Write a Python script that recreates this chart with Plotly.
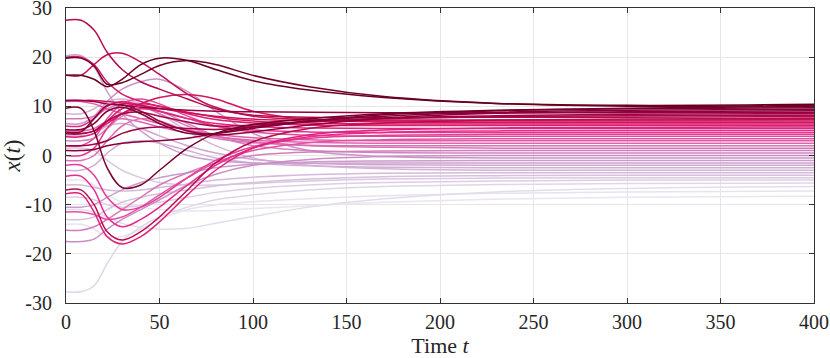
import plotly.graph_objects as go
from plotly.colors import sample_colorscale

# time samples
t = [0, 8, 15, 22, 30, 40, 50, 65, 80, 100, 130, 170, 230, 300, 400]

# agent states x(t), sorted by final value (highest first)
agent_01 = [16.3, 16.3, 15.5, 14.0, 15.5, 18.5, 19.8, 19.3, 17.5, 15.2, 13.3, 11.8, 10.6, 10.2, 10.4]
agent_02 = [19.8, 19.8, 18.2, 14.5, 14.8, 16.5, 18.3, 19.3, 18.5, 16.3, 14.0, 12.0, 10.6, 10.0, 10.2]
agent_03 = [9.6, 9.6, 5.0, -2.5, -6.5, -6.0, -3.0, 1.5, 4.5, 6.3, 7.5, 8.5, 9.2, 9.6, 10.0]
agent_04 = [5.3, 5.3, 6.5, 9.0, 9.8, 8.5, 6.5, 4.5, 4.5, 5.5, 7.0, 8.3, 9.1, 9.5, 9.7]
agent_05 = [1.0, 1.0, 1.2, 2.0, 2.5, 2.8, 3.0, 3.5, 4.5, 5.8, 7.0, 8.0, 8.8, 9.2, 9.4]
agent_06 = [4.8, 4.8, 7.5, 10.2, 10.3, 9.0, 7.0, 5.0, 4.2, 4.8, 6.2, 7.6, 8.6, 8.9, 9.1]
agent_07 = [11.2, 11.2, 11.0, 10.5, 10.2, 9.8, 9.5, 9.2, 9.0, 8.9, 8.8, 8.7, 8.7, 8.7, 8.8]
agent_08 = [2.0, 2.0, 2.3, 3.0, 4.5, 5.5, 5.8, 5.5, 5.3, 5.8, 6.8, 7.6, 8.1, 8.4, 8.5]
agent_09 = [4.4, 4.4, 5.0, 7.0, 8.5, 8.8, 8.0, 6.8, 6.0, 6.2, 6.9, 7.5, 7.9, 8.1, 8.2]
agent_10 = [27.5, 27.5, 25.5, 21.0, 17.5, 15.0, 13.5, 11.5, 9.5, 8.2, 7.8, 7.7, 7.8, 7.8, 7.9]
agent_11 = [-7.0, -7.0, -10.0, -15.5, -17.2, -15.5, -12.5, -7.0, -1.5, 2.8, 5.5, 6.6, 7.2, 7.4, 7.6]
agent_12 = [16.3, 16.3, 18.5, 20.5, 20.8, 19.0, 16.5, 12.5, 9.8, 8.0, 7.3, 7.2, 7.2, 7.2, 7.3]
agent_13 = [11.2, 11.2, 11.2, 11.0, 10.7, 10.2, 9.6, 8.7, 8.0, 7.4, 7.1, 7.0, 7.0, 7.0, 7.0]
agent_14 = [4.5, 4.5, 5.0, 6.5, 8.5, 10.5, 11.8, 12.4, 11.5, 9.0, 7.3, 6.8, 6.7, 6.7, 6.7]
agent_15 = [20.0, 20.0, 18.5, 15.0, 12.5, 11.0, 10.0, 8.8, 7.8, 7.0, 6.6, 6.4, 6.4, 6.4, 6.4]
agent_16 = [3.8, 3.8, 4.5, 7.0, 9.5, 10.5, 10.0, 8.5, 7.3, 6.6, 6.2, 6.1, 6.1, 6.1, 6.1]
agent_17 = [-7.8, -7.8, -11.5, -16.5, -18.0, -16.5, -13.5, -8.0, -3.0, 1.5, 4.2, 5.2, 5.6, 5.7, 5.8]
agent_18 = [6.0, 6.0, 7.5, 10.0, 11.0, 10.2, 9.0, 7.5, 6.5, 5.9, 5.6, 5.5, 5.5, 5.5, 5.5]
agent_19 = [-4.2, -4.2, -7.0, -12.5, -14.5, -13.0, -10.5, -6.0, -2.0, 1.5, 3.8, 4.7, 5.0, 5.1, 5.1]
agent_20 = [0.0, 0.0, 1.5, 5.5, 8.5, 9.5, 9.0, 7.5, 6.0, 5.2, 4.8, 4.7, 4.7, 4.7, 4.7]
agent_21 = [-2.0, -2.0, -4.0, -8.5, -11.0, -10.5, -8.5, -4.5, -1.0, 1.8, 3.5, 4.1, 4.3, 4.3, 4.3]
agent_22 = [2.0, 2.0, 3.5, 7.5, 10.5, 11.5, 10.5, 8.0, 6.0, 4.8, 4.1, 3.9, 3.9, 3.9, 3.9]
agent_23 = [-11.5, -11.5, -12.0, -13.0, -12.5, -10.5, -8.0, -4.5, -1.5, 1.0, 2.6, 3.2, 3.4, 3.4, 3.4]
agent_24 = [11.0, 11.0, 10.5, 9.5, 8.5, 7.5, 6.5, 5.2, 4.3, 3.6, 3.2, 3.0, 3.0, 3.0, 3.0]
agent_25 = [5.0, 5.0, 5.5, 7.0, 7.5, 6.8, 5.8, 4.6, 3.8, 3.1, 2.7, 2.5, 2.5, 2.5, 2.5]
agent_26 = [-1.0, -1.0, 0.0, 3.0, 6.0, 7.5, 7.0, 5.0, 3.5, 2.6, 2.1, 2.0, 2.0, 2.0, 2.0]
agent_27 = [7.5, 7.5, 8.0, 9.5, 10.5, 10.0, 8.5, 6.0, 4.0, 2.8, 2.0, 1.7, 1.5, 1.5, 1.5]
agent_28 = [-15.2, -15.2, -14.5, -13.0, -11.0, -8.5, -6.0, -3.5, -1.5, 0.0, 0.7, 0.9, 1.0, 1.0, 1.0]
agent_29 = [3.0, 3.0, 3.5, 5.5, 8.0, 9.5, 9.0, 6.5, 4.0, 2.0, 1.0, 0.6, 0.5, 0.5, 0.5]
agent_30 = [-17.5, -17.5, -17.0, -15.0, -13.0, -11.0, -9.0, -6.0, -3.8, -2.0, -0.8, -0.2, 0.0, 0.0, 0.0]
agent_31 = [6.5, 6.5, 8.0, 11.0, 13.5, 15.0, 15.5, 13.0, 9.0, 4.5, 1.0, -0.2, -0.5, -0.5, -0.5]
agent_32 = [-10.5, -10.5, -10.0, -8.5, -7.0, -5.5, -4.5, -3.5, -2.5, -1.8, -1.3, -1.1, -1.0, -1.0, -1.0]
agent_33 = [20.3, 20.3, 18.0, 13.0, 8.5, 5.0, 2.5, 0.0, -1.0, -1.5, -1.6, -1.5, -1.5, -1.5, -1.5]
agent_34 = [4.0, 4.0, 4.5, 6.0, 6.5, 5.5, 4.0, 2.0, 0.5, -0.8, -1.6, -1.9, -2.0, -2.0, -2.0]
agent_35 = [-3.0, -3.0, -2.0, 0.5, 2.5, 3.0, 2.5, 1.0, -0.5, -1.5, -2.1, -2.4, -2.5, -2.5, -2.5]
agent_36 = [8.5, 8.5, 9.5, 11.0, 11.5, 10.5, 8.5, 5.0, 2.0, -0.5, -2.0, -2.7, -3.0, -3.0, -3.0]
agent_37 = [-6.0, -6.0, -6.5, -7.0, -7.2, -7.0, -6.5, -5.8, -5.0, -4.4, -3.9, -3.6, -3.5, -3.5, -3.5]
agent_38 = [-13.0, -13.0, -12.5, -11.0, -9.5, -8.5, -7.8, -7.0, -6.2, -5.5, -4.8, -4.3, -4.1, -4.0, -4.0]
agent_39 = [1.5, 1.5, 1.0, -1.0, -3.0, -4.5, -5.5, -6.0, -6.0, -5.7, -5.2, -4.8, -4.6, -4.5, -4.5]
agent_40 = [-8.5, -8.5, -9.0, -10.0, -10.5, -10.2, -9.5, -8.5, -7.5, -6.7, -6.0, -5.5, -5.2, -5.0, -5.0]
agent_41 = [-27.7, -27.7, -26.5, -22.0, -17.5, -14.5, -12.5, -10.5, -9.0, -8.0, -7.0, -6.3, -5.9, -5.7, -5.6]
agent_42 = [-11.0, -11.0, -11.5, -12.5, -13.8, -14.6, -15.0, -14.8, -13.8, -12.4, -10.5, -8.8, -7.4, -6.7, -6.3]
agent_43 = [-14.0, -14.0, -15.0, -16.5, -16.5, -15.0, -13.0, -11.0, -10.0, -9.4, -8.8, -8.2, -7.7, -7.4, -7.2]
agent_44 = [-5.0, -5.0, -6.0, -8.0, -9.5, -10.5, -11.0, -11.3, -11.2, -10.8, -10.2, -9.5, -8.9, -8.5, -8.3]

agents = [agent_01, agent_02, agent_03, agent_04, agent_05, agent_06, agent_07, agent_08,
          agent_09, agent_10, agent_11, agent_12, agent_13, agent_14, agent_15, agent_16,
          agent_17, agent_18, agent_19, agent_20, agent_21, agent_22, agent_23, agent_24,
          agent_25, agent_26, agent_27, agent_28, agent_29, agent_30, agent_31, agent_32,
          agent_33, agent_34, agent_35, agent_36, agent_37, agent_38, agent_39, agent_40,
          agent_41, agent_42, agent_43, agent_44]

x_ticks = [0, 50, 100, 150, 200, 250, 300, 350, 400]
y_ticks = [-30, -20, -10, 0, 10, 20, 30]
y_tick_labels = ['-30', '-20', '-10', '0', '10', '20', '30']

serif = 'Liberation Serif'

n = len(agents)
colors = sample_colorscale('PuRd', [1.0 - 0.9 * i / (n - 1) for i in range(n)])

fig = go.Figure()
# light ones first so the dark ones sit on top
for i in reversed(range(n)):
    fig.add_trace(go.Scatter(x=t, y=agents[i], mode='lines',
                             line=dict(color=colors[i], width=1.5, shape='spline', smoothing=1.0),
                             showlegend=False, hoverinfo='skip'))

axis_style = dict(showgrid=True, gridcolor='#e6e6e6', gridwidth=1, zeroline=False,
                  showline=True, linecolor='#333333', linewidth=1, mirror='allticks',
                  ticks='inside', ticklen=5, tickcolor='#333333', automargin=False,
                  ticklabeloverflow='allow',
                  tickfont=dict(family=serif, size=20, color='#262626'))

fig.update_xaxes(range=[0, 400], tickvals=x_ticks, ticklabelstandoff=1,
                 title=dict(text='Time <i>t</i>', font=dict(family=serif, size=22, color='#262626'), standoff=5),
                 **axis_style)
fig.update_yaxes(range=[-30, 30], tickvals=y_ticks, ticktext=y_tick_labels, ticklabelstandoff=9,
                 title=dict(text='<i>x</i>(<i>t</i>)', font=dict(family=serif, size=23, color='#262626'), standoff=2),
                 **axis_style)

fig.update_layout(width=830, height=358, plot_bgcolor='white', paper_bgcolor='white',
                  font=dict(family=serif, color='#262626'),
                  margin=dict(l=66, r=16, t=8, b=55))

# the page body has an 8px margin by default; drop it so the figure sits at 0,0
fig.write_html("out.html", config={'displayModeBar': False},
               post_script="document.body.style.margin='0';")
